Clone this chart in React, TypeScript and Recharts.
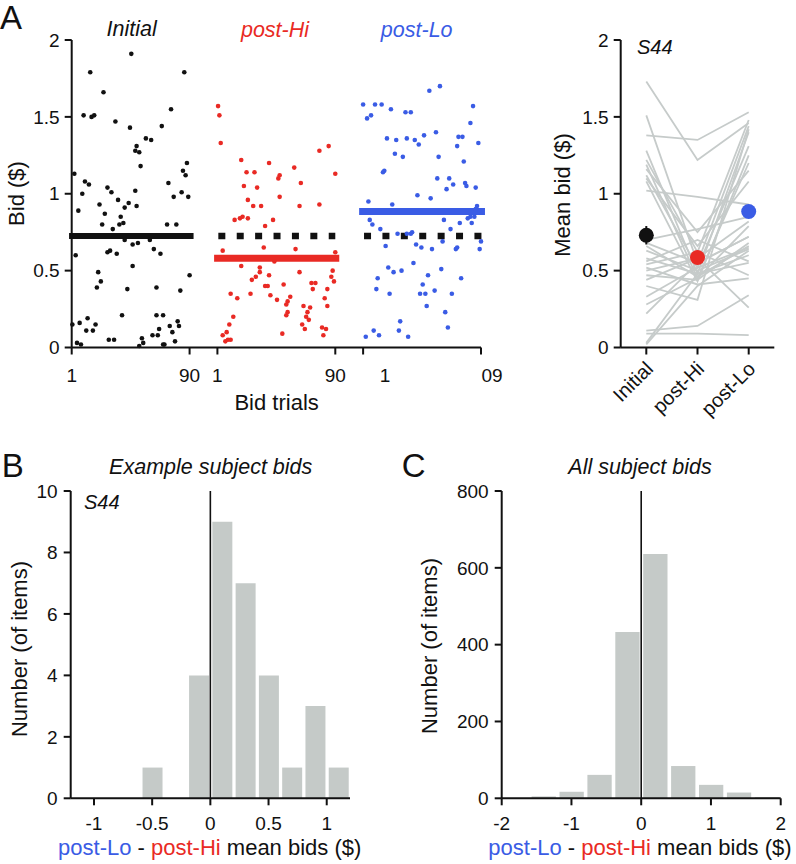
import React from "react";
import {
  ScatterChart,
  Scatter,
  XAxis,
  YAxis,
  ReferenceLine,
  ComposedChart,
  Line,
  BarChart,
  Bar,
  ErrorBar,
} from "recharts";

// ---- panel A (left): single-trial bids, [trial, bid $] ----
const initialBids: [number, number][] = [
  [46, 1.91], [15, 1.79], [86, 1.79], [25, 1.66], [10, 1.51], [16, 1.5], [18, 1.51], [34, 1.47],
  [45, 1.43], [69, 1.44], [76, 1.55], [57, 1.36], [61, 1.35], [50, 1.31], [49, 1.28], [52, 1.27],
  [53, 1.18], [3, 1.13], [11, 1.08], [14, 1.06], [9, 1.0], [6, 0.89], [28, 1.04], [31, 1.01],
  [49, 1.02], [22, 0.93], [26, 0.87], [24, 0.8], [36, 0.96], [44, 0.94], [41, 0.91], [50, 0.92],
  [38, 0.85], [37, 0.8], [40, 0.81], [32, 0.77], [74, 1.07], [78, 0.98], [84, 1.01], [89, 0.98],
  [85, 1.15], [87, 1.12], [88, 1.2], [73, 0.8], [80, 0.8], [90, 0.47], [83, 0.37], [4, 0.6],
  [28, 0.62], [30, 0.63], [35, 0.61], [41, 0.7], [47, 0.67], [51, 0.68], [60, 0.7], [63, 0.64],
  [68, 0.61], [21, 0.49], [23, 0.43], [20, 0.39], [47, 0.53], [43, 0.38], [65, 0.39], [39, 0.21],
  [1.5, 0.15], [7, 0.16], [13, 0.19], [12, 0.11], [17, 0.11], [19, 0.15], [5, 0.03], [8, 0.02],
  [29, 0.05], [33, 0.05], [52, 0.01], [54, 0.06], [55, 0.03], [65, 0.21], [70, 0.21], [67, 0.12],
  [62, 0.08], [66, 0.08], [70, 0.02], [71, 0.02], [75, 0.14], [77, 0.1], [79, 0.04], [81, 0.17],
  [82, 0.14],
];

const postHiBids: [number, number][] = [
  [1.5, 1.57], [2.5, 1.51], [3.5, 1.33], [19, 1.22], [23, 1.14], [29, 1.14], [40, 1.2], [59, 1.17],
  [78, 1.28], [85, 1.31], [90, 1.13], [47, 1.1], [48, 1.12], [21, 1.05], [31, 1.04], [64, 1.07],
  [24, 0.96], [28, 0.92], [34, 0.92], [48, 0.98], [63, 0.92], [78, 0.93], [14, 0.83], [18, 0.84],
  [20, 0.85], [24, 0.84], [43, 0.83], [37, 0.79], [5, 0.63], [19, 0.53], [36, 0.65], [44, 0.56],
  [60, 0.64], [90, 0.62], [33, 0.52], [30, 0.46], [27, 0.44], [33, 0.49], [40, 0.47], [63, 0.49],
  [87, 0.46], [89, 0.43], [88, 0.5], [37, 0.4], [39, 0.4], [51, 0.41], [72, 0.42], [75, 0.42],
  [73, 0.38], [11, 0.35], [16, 0.32], [26, 0.35], [41, 0.34], [46, 0.31], [56, 0.33], [54, 0.3],
  [53, 0.28], [84, 0.38], [82, 0.32], [84, 0.27], [66, 0.27], [71, 0.26], [69, 0.23], [54, 0.23],
  [53, 0.21], [13, 0.2], [10, 0.15], [8, 0.1], [5, 0.08], [7, 0.04], [9, 0.05], [11, 0.05],
  [50, 0.09], [65, 0.15], [67, 0.12], [68, 0.2], [70, 0.18], [80, 0.13], [83, 0.12], [81, 0.08],
];

const postLoBids: [number, number][] = [
  [51, 1.67], [59, 1.7], [1, 1.58], [10, 1.58], [15, 1.58], [22, 1.55], [4, 1.49], [7, 1.51],
  [33, 1.53], [37, 1.53], [84, 1.57], [82, 1.46], [19, 1.36], [26, 1.35], [34, 1.36], [40, 1.35],
  [43, 1.32], [47, 1.38], [56, 1.4], [73, 1.37], [76, 1.37], [72, 1.31], [88, 1.33], [25, 1.26],
  [31, 1.24], [58, 1.24], [77, 1.21], [17, 1.15], [16, 1.14], [57, 1.1], [66, 1.1], [64, 1.03],
  [69, 1.06], [78, 1.07], [79, 1.05], [86, 1.04], [42, 0.99], [52, 0.97], [5, 0.95], [23, 0.93],
  [87, 0.92], [86, 0.9], [6, 0.83], [8, 0.8], [62, 0.83], [74, 0.81], [80, 0.84], [82, 0.85],
  [83, 0.81], [85, 0.85], [14, 0.77], [67, 0.77], [27, 0.74], [34, 0.74], [38, 0.75], [37, 0.74],
  [61, 0.69], [90, 0.69], [89, 0.64], [18, 0.66], [41, 0.67], [45, 0.65], [53, 0.64], [71, 0.64],
  [72, 0.65], [20, 0.52], [24, 0.49], [30, 0.5], [39, 0.55], [60, 0.51], [12, 0.45], [11, 0.38],
  [21, 0.35], [46, 0.41], [50, 0.47], [44, 0.35], [48, 0.35], [55, 0.37], [68, 0.35], [75, 0.45],
  [49, 0.27], [63, 0.23], [65, 0.13], [29, 0.17], [28, 0.11], [9, 0.11], [13, 0.08], [3, 0.07],
  [35, 0.07],
];

const meanInitial = 0.725;
const meanPostHi = 0.58;
const meanPostLo = 0.885;

const trialTicks = [1, 90, 111, 200, 221, 310];
const trialTickLabels = ["1", "90", "1", "90", "1", "09"];

// ---- panel A (right): per-subject mean bids [Initial, post-Hi, post-Lo] ----
const conditions = ["Initial", "post-Hi", "post-Lo"];
const subjectMeans: number[][] = [
  [1.73, 1.22, 1.46], [1.38, 1.35, 1.53], [1.51, 0.55, 1.44], [1.28, 0.48, 1.4],
  [1.22, 0.62, 1.48], [1.19, 0.45, 1.2], [1.16, 0.75, 1.15], [1.12, 0.52, 1.31],
  [1.08, 0.43, 1.25], [1.02, 0.98, 0.93], [1.1, 0.66, 1.08], [0.7, 0.77, 0.85],
  [0.68, 0.55, 0.72], [0.66, 0.46, 0.66], [0.63, 0.5, 0.64], [0.58, 0.48, 0.6],
  [0.56, 0.7, 0.56], [0.54, 0.62, 0.47], [0.52, 0.41, 0.45], [0.5, 0.58, 0.82],
  [0.47, 0.44, 0.68], [0.44, 0.58, 0.26], [0.4, 0.31, 1.42], [0.33, 0.52, 0.65],
  [0.28, 0.45, 0.79], [0.22, 0.55, 0.72], [0.11, 0.14, 0.34], [0.09, 0.09, 0.08],
  [0.03, 0.48, 0.55], [0.02, 0.4, 0.63],
];
const exampleMeans = [0.73, 0.585, 0.885];
const exampleErr = [0.06, 0.035, 0.04];

// ---- panel B: example subject histogram ----
const binsB = [-1.1, -0.9, -0.7, -0.5, -0.3, -0.1, 0.1, 0.3, 0.5, 0.7, 0.9, 1.1];
const countsB = [0, 0, 0, 1, 0, 4, 9, 7, 4, 1, 3, 1];

// ---- panel C: all subjects histogram ----
const binsC = [-1.8, -1.4, -1.0, -0.6, -0.2, 0.2, 0.6, 1.0, 1.4, 1.8];
const countsC = [0, 5, 17, 61, 433, 636, 84, 35, 15, 3];

const INK = "#111111";
const RED = "#e92a24";
const BLUE = "#3a5ce5";
const GREY_LINE = "#c6cbca";
const BAR = "#c5cac8";
const FONT = '"Liberation Sans", Arial, Helvetica, sans-serif';

const axisStroke = { stroke: INK, strokeWidth: 2 };

function TrialTick(props: any) {
  const { x, y, payload } = props;
  const i = trialTicks.indexOf(payload.value);
  // the third group's labels sit off their ticks in the original figure
  const nudge = i === 4 ? 22 : i === 5 ? 11 : 0;
  return (
    <text x={x + nudge} y={y} dy="0.71em" textAnchor="middle" fontSize={19} fill={INK}>
      {trialTickLabels[i]}
    </text>
  );
}

function ConditionTick(props: any) {
  const { x, y, payload } = props;
  const ax = x + 8;
  const ay = y + 13.5;
  return (
    <text x={ax} y={ay} textAnchor="end" fontSize={20} fill={INK} transform={`rotate(-45 ${ax} ${ay})`}>
      {conditions[payload.value]}
    </text>
  );
}

function dot(color: string) {
  return (p: any) => <circle cx={p.cx} cy={p.cy} r={2.3} fill={color} />;
}

function BidScatter() {
  const initial = initialBids.map(([t, b]) => ({ t, bid: b }));
  const hi = postHiBids.map(([t, b]) => ({ t: t + 110, bid: b }));
  const lo = postLoBids.map(([t, b]) => ({ t: t + 220, bid: b }));
  return (
    <ScatterChart width={520} height={420} margin={{ top: 40, right: 39, left: 11.7, bottom: 42.5 }}>
      <XAxis
        type="number"
        dataKey="t"
        domain={[1, 310]}
        ticks={trialTicks}
        interval={0}
        height={30}
        tickSize={7}
        tickMargin={14}
        axisLine={axisStroke}
        tickLine={axisStroke}
        tick={<TrialTick />}
      />
      <YAxis
        type="number"
        dataKey="bid"
        domain={[0, 2]}
        ticks={[0, 0.5, 1, 1.5, 2]}
        interval={0}
        width={60}
        tickSize={7}
        tickMargin={5}
        axisLine={axisStroke}
        tickLine={axisStroke}
        tick={{ fill: INK, fontSize: 19 }}
      />
      <Scatter data={initial} shape={dot(INK)} isAnimationActive={false} />
      <Scatter data={hi} shape={dot(RED)} isAnimationActive={false} />
      <Scatter data={lo} shape={dot(BLUE)} isAnimationActive={false} />
      <ReferenceLine
        segment={[{ x: -1, y: meanInitial }, { x: 93, y: meanInitial }]}
        stroke={INK}
        strokeWidth={6}
        ifOverflow="visible"
      />
      <ReferenceLine
        segment={[{ x: 108.5, y: meanPostHi }, { x: 203, y: meanPostHi }]}
        stroke={RED}
        strokeWidth={7}
        ifOverflow="visible"
      />
      <ReferenceLine
        segment={[{ x: 218, y: meanPostLo }, { x: 313, y: meanPostLo }]}
        stroke={BLUE}
        strokeWidth={7}
        ifOverflow="visible"
      />
      <ReferenceLine
        segment={[{ x: 111.7, y: meanInitial }, { x: 200, y: meanInitial }]}
        stroke={INK}
        strokeWidth={6.5}
        strokeDasharray="7 11.4"
        ifOverflow="visible"
      />
      <ReferenceLine
        segment={[{ x: 221.7, y: meanInitial }, { x: 310.6, y: meanInitial }]}
        stroke={INK}
        strokeWidth={6.5}
        strokeDasharray="7 11.4"
        ifOverflow="visible"
      />
    </ScatterChart>
  );
}

function SubjectMeans() {
  const rows = conditions.map((_, i) => {
    const r: Record<string, number> = { x: i, mean: exampleMeans[i], err: exampleErr[i] };
    subjectMeans.forEach((s, j) => {
      r["s" + j] = s[i];
    });
    return r;
  });
  const colors = [INK, RED, BLUE];
  return (
    <ComposedChart width={256} height={430} data={rows} margin={{ top: 40, right: 21.7, left: 20.7, bottom: 22.5 }}>
      <XAxis
        type="number"
        dataKey="x"
        domain={[-0.5, 2.5]}
        ticks={[0, 1, 2]}
        interval={0}
        height={60}
        tickSize={7}
        tickMargin={2}
        axisLine={axisStroke}
        tickLine={axisStroke}
        tick={<ConditionTick />}
      />
      <YAxis
        type="number"
        domain={[0, 2]}
        ticks={[0, 0.5, 1, 1.5, 2]}
        interval={0}
        width={60}
        tickSize={7}
        tickMargin={5}
        axisLine={axisStroke}
        tickLine={axisStroke}
        tick={{ fill: INK, fontSize: 19 }}
      />
      {subjectMeans.map((_, j) => (
        <Line
          key={j}
          dataKey={"s" + j}
          stroke={GREY_LINE}
          strokeWidth={1.8}
          dot={false}
          activeDot={false}
          isAnimationActive={false}
        />
      ))}
      <Scatter
        dataKey="mean"
        isAnimationActive={false}
        shape={(p: any) => <circle cx={p.cx} cy={p.cy} r={7.5} fill={colors[p.payload.x]} />}
      >
        <ErrorBar dataKey="err" direction="y" width={0} stroke={INK} strokeWidth={2} />
      </Scatter>
    </ComposedChart>
  );
}

function Histogram(props: {
  bins: number[];
  counts: number[];
  domain: [number, number];
  xTicks: number[];
  yMax: number;
  yTicks: number[];
  barSize: number;
  width: number;
  margin: { top: number; right: number; left: number; bottom: number };
}) {
  const data = props.bins.map((b, i) => ({ bin: b, count: props.counts[i] }));
  return (
    <BarChart width={props.width} height={444} data={data} margin={props.margin}>
      <XAxis
        type="number"
        dataKey="bin"
        domain={props.domain}
        ticks={props.xTicks}
        interval={0}
        height={30}
        tickSize={7}
        tickMargin={11}
        axisLine={axisStroke}
        tickLine={axisStroke}
        tick={{ fill: INK, fontSize: 19 }}
      />
      <YAxis
        type="number"
        domain={[0, props.yMax]}
        ticks={props.yTicks}
        interval={0}
        width={60}
        tickSize={7}
        tickMargin={6}
        axisLine={axisStroke}
        tickLine={axisStroke}
        tick={{ fill: INK, fontSize: 19 }}
      />
      <Bar dataKey="count" fill={BAR} barSize={props.barSize} isAnimationActive={false} />
      <ReferenceLine x={0} stroke={INK} strokeWidth={1.6} />
    </BarChart>
  );
}

function DiffLabel(props: { x: number; y: number }) {
  return (
    <text x={props.x} y={props.y} textAnchor="middle" fontSize={22} fill={INK}>
      <tspan fill={BLUE}>post-Lo</tspan>
      <tspan> - </tspan>
      <tspan fill={RED}>post-Hi</tspan>
      <tspan> mean bids ($)</tspan>
    </text>
  );
}

export default function App() {
  return (
    <div style={{ position: "relative", width: 796, height: 864, fontFamily: FONT, background: "#fff" }}>
      <style>{"body{margin:0}"}</style>
      <div style={{ position: "absolute", left: 0, top: 0 }}>
        <BidScatter />
      </div>
      <div style={{ position: "absolute", left: 540, top: 0 }}>
        <SubjectMeans />
      </div>
      <div style={{ position: "absolute", left: 0, top: 420 }}>
        <Histogram
          bins={binsB}
          counts={countsB}
          domain={[-1.2, 1.2]}
          xTicks={[-1, -0.5, 0, 0.5, 1]}
          yMax={10}
          yTicks={[0, 2, 4, 6, 8, 10]}
          barSize={20}
          width={400}
          margin={{ top: 71, right: 50, left: 10.7, bottom: 35.7 }}
        />
      </div>
      <div style={{ position: "absolute", left: 400, top: 420 }}>
        <Histogram
          bins={binsC}
          counts={countsC}
          domain={[-2, 2]}
          xTicks={[-2, -1, 0, 1, 2]}
          yMax={800}
          yTicks={[0, 200, 400, 600, 800]}
          barSize={24.3}
          width={396}
          margin={{ top: 71, right: 15.3, left: 41.7, bottom: 35.7 }}
        />
      </div>
      <svg
        width={796}
        height={864}
        style={{ position: "absolute", left: 0, top: 0, pointerEvents: "none", fontFamily: FONT }}
      >
        <text x={0} y={28.5} fontSize={33} fill={INK}>A</text>
        <text x={1.7} y={476.7} fontSize={33} fill={INK}>B</text>
        <text x={401.7} y={476.7} fontSize={33} fill={INK}>C</text>

        <text x={131.7} y={36} textAnchor="middle" fontSize={21.5} fontStyle="italic" fill={INK}>Initial</text>
        <text x={275} y={37} textAnchor="middle" fontSize={21.5} fontStyle="italic" fill={RED}>post-Hi</text>
        <text x={416.7} y={37} textAnchor="middle" fontSize={21.5} fontStyle="italic" fill={BLUE}>post-Lo</text>
        <text x={637} y={54} fontSize={20} fontStyle="italic" fill={INK}>S44</text>

        <text x={23.5} y={193.5} textAnchor="middle" fontSize={22} fill={INK} transform="rotate(-90 23.5 193.5)">Bid ($)</text>
        <text x={570.4} y={195} textAnchor="middle" fontSize={22} fill={INK} transform="rotate(-90 570.4 195)">Mean bid ($)</text>
        <text x={276.6} y={410} textAnchor="middle" fontSize={22} fill={INK}>Bid trials</text>

        <text x={210.7} y={474.3} textAnchor="middle" fontSize={21.5} fontStyle="italic" fill={INK}>Example subject bids</text>
        <text x={640} y={474} textAnchor="middle" fontSize={21.5} fontStyle="italic" fill={INK}>All subject bids</text>
        <text x={84} y={509.3} fontSize={20} fontStyle="italic" fill={INK}>S44</text>

        <text x={27} y={649} textAnchor="middle" fontSize={22} fill={INK} transform="rotate(-90 27 649)">Number (of items)</text>
        <text x={437} y={646} textAnchor="middle" fontSize={22} fill={INK} transform="rotate(-90 437 646)">Number (of items)</text>

        <DiffLabel x={209.7} y={855} />
        <DiffLabel x={640} y={855} />
      </svg>
    </div>
  );
}
